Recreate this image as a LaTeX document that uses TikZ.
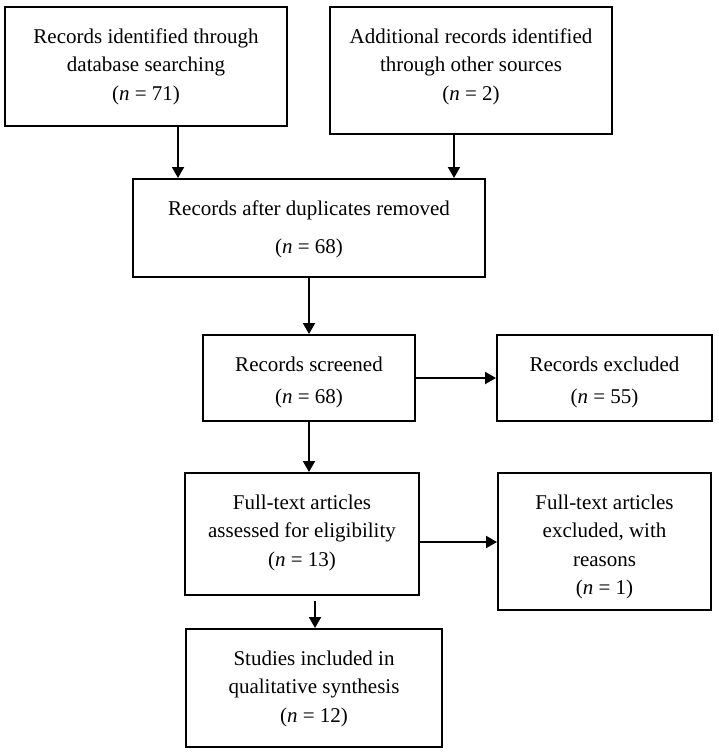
\documentclass[tikz,border=0pt]{standalone}
\usepackage{fontspec}
\setmainfont{Liberation Serif}
\usetikzlibrary{arrows.meta,calc}
\tikzset{
  box/.style={draw=black, line width=2pt, rectangle, inner sep=0pt},
  txt/.style={align=center, inner sep=0pt, anchor=north, font=\fontsize{21}{28.5}\selectfont},
  arr/.style={line width=2pt, -{Triangle[length=11pt,width=12pt]}}
}
\begin{document}
\begin{tikzpicture}[x=1pt,y=1pt]
\useasboundingbox[fill=white] (0,0) rectangle (719,-752);
% boxes
\node[box, minimum width=282, minimum height=119] (b1) at (146,-66.5) {};
\node[box, minimum width=282, minimum height=127] (b2) at (471,-70.5) {};
\node[box, minimum width=352, minimum height=98]  (b3) at (309,-228) {};
\node[box, minimum width=212, minimum height=86]  (b4) at (309,-378) {};
\node[box, minimum width=215, minimum height=86]  (b5) at (604.5,-378) {};
\node[box, minimum width=234, minimum height=122] (b6) at (302,-534) {};
\node[box, minimum width=213, minimum height=137] (b7) at (604.5,-541.5) {};
\node[box, minimum width=256, minimum height=118] (b8) at (314,-688) {};
% texts
\node[txt] (t1) at ([yshift=-17pt]b1.north) {\strut Records identified through\\\strut database searching\\\strut(\textit{n} = 71)};
\node[txt] (t2) at ([yshift=-17pt]b2.north) {\strut Additional records identified\\\strut through other sources\\\strut(\textit{n} = 2)};
\node[txt] (t3) at ([yshift=-17pt]b3.north) {\strut Records after duplicates removed\\[9.5pt]\strut(\textit{n} = 68)};
\node[txt] (t4) at ([yshift=-17pt]b4.north) {\strut Records screened\\[3.5pt]\strut(\textit{n} = 68)};
\node[txt] (t5) at ([yshift=-17pt]b5.north) {\strut Records excluded\\[3.5pt]\strut(\textit{n} = 55)};
\node[txt] (t6) at ([yshift=-17pt]b6.north) {\strut Full-text articles\\\strut assessed for eligibility\\\strut(\textit{n} = 13)};
\node[txt] (t7) at ([yshift=-17pt]b7.north) {\strut Full-text articles\\\strut excluded, with\\\strut reasons\\\strut(\textit{n} = 1)};
\node[txt] (t8) at ([yshift=-17pt]b8.north) {\strut Studies included in\\\strut qualitative synthesis\\\strut(\textit{n} = 12)};
% connectors
\coordinate (a1) at ([xshift=32pt]b1.south);
\coordinate (a2) at ([xshift=-17pt]b2.south);
\draw[arr] (a1) -- (a1 |- b3.north);
\draw[arr] (a2) -- (a2 |- b3.north);
\draw[arr] (b3.south) -- (b3.south |- b4.north);
\draw[arr] (b4.east) -- (b4.east -| b5.west);
\draw[arr] (b4.south) -- (b4.south |- b6.north);
\coordinate (a6) at ([yshift=-8pt]b6.east);
\draw[arr] (a6) -- (a6 -| b7.west);
\coordinate (a8) at ($(b6.south -| b8.north)+(1pt,-5pt)$);
\draw[arr] (a8) -- (a8 |- b8.north);
\end{tikzpicture}
\end{document}
